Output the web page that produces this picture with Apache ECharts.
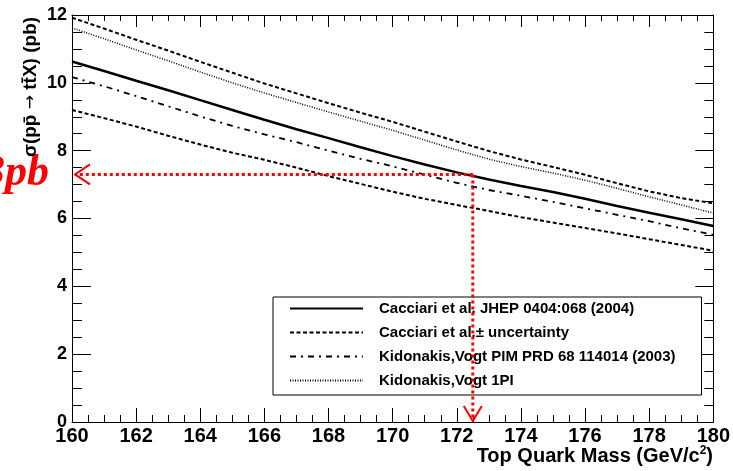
<!DOCTYPE html>
<html>
<head>
<meta charset="utf-8">
<script src="https://cdn.jsdelivr.net/npm/echarts@6/dist/echarts.min.js"></script>
<style>
  html, body { margin: 0; padding: 0; background: #fff; }
  #chart { width: 733px; height: 471px; }
</style>
</head>
<body>
<div id="chart"></div>
<script>
// Top quark mass grid (GeV/c^2)
const topMass = [160, 161, 162, 163, 164, 165, 166, 167, 168, 169, 170,
                 171, 172, 173, 174, 175, 176, 177, 178, 179, 180];

// Cross sections sigma(p pbar -> t tbar X) in pb
const cacciariCentral = [10.63, 10.35, 10.06, 9.78, 9.49, 9.20, 8.91, 8.63, 8.37, 8.10, 7.84,
                         7.59, 7.36, 7.15, 6.96, 6.78, 6.58, 6.37, 6.17, 5.98, 5.78];
const cacciariUpper   = [11.92, 11.60, 11.27, 10.95, 10.62, 10.30, 9.98, 9.69, 9.40, 9.12, 8.85,
                         8.56, 8.27, 7.99, 7.74, 7.52, 7.29, 7.04, 6.80, 6.60, 6.45];
const cacciariLower   = [9.20, 8.96, 8.71, 8.44, 8.18, 7.94, 7.73, 7.50, 7.25, 7.02, 6.79,
                         6.58, 6.40, 6.22, 6.04, 5.88, 5.72, 5.56, 5.39, 5.22, 5.05];
const kidonakisPIM    = [10.17, 9.90, 9.61, 9.31, 9.01, 8.73, 8.48, 8.25, 8.00, 7.76, 7.54,
                         7.29, 7.05, 6.84, 6.67, 6.49, 6.30, 6.11, 5.92, 5.71, 5.52];
const kidonakis1PI    = [11.62, 11.30, 10.97, 10.65, 10.32, 10.00, 9.70, 9.42, 9.14, 8.87, 8.60,
                         8.31, 8.02, 7.75, 7.53, 7.34, 7.13, 6.89, 6.64, 6.40, 6.16];

// Legend names
const seriesNames = [
  'Cacciari et al. JHEP 0404:068 (2004)',
  'Cacciari et al.\u00b1 uncertainty',
  'Kidonakis,Vogt PIM PRD 68 114014 (2003)',
  'Kidonakis,Vogt 1PI'
];

// Highlighted working point
const markMass = 172.5;
const markXsec = 7.3;
const markLabel = '7.3pb';

// Axis ranges
const xMin = 160, xMax = 180, xStep = 2;
const yMin = 0, yMax = 12, yStep = 2;

const pairs = vals => topMass.map((m, i) => [m, vals[i]]);
const FONT = '"Liberation Sans", Arial, sans-serif';

const chart = echarts.init(document.getElementById('chart'), null, { renderer: 'canvas' });

const axisCommon = {
  type: 'value',
  axisLine: { show: true, onZero: false, lineStyle: { color: '#000', width: 1 } },
  splitLine: { show: false },
  minorSplitLine: { show: false }
};

function lineSeries(name, vals, width, dash, z) {
  return {
    name: name,
    type: 'line',
    data: pairs(vals),
    showSymbol: false,
    symbol: 'none',
    smooth: false,
    animation: false,
    z: z,
    itemStyle: { color: '#000' },
    lineStyle: { color: '#000', width: width, type: dash, cap: 'butt' }
  };
}

const option = {
  backgroundColor: '#fff',
  animation: false,
  grid: { left: 72, right: 19, top: 15, bottom: 49, containLabel: false },
  xAxis: [
    Object.assign({}, axisCommon, {
      position: 'bottom', min: xMin, max: xMax, interval: xStep,
      axisTick: { show: true, inside: true, length: 14, lineStyle: { color: '#000', width: 1 } },
      minorTick: { show: true, splitNumber: 4, length: 7, lineStyle: { color: '#000', width: 1 } },
      axisLabel: { show: true, color: '#000', fontFamily: FONT, fontWeight: 'bold', fontSize: 20, margin: 4 }
    }),
    Object.assign({}, axisCommon, {
      position: 'top', min: xMin, max: xMax, interval: xStep,
      axisTick: { show: true, inside: true, length: 12, lineStyle: { color: '#000', width: 1 } },
      minorTick: { show: true, splitNumber: 4, length: 6, lineStyle: { color: '#000', width: 1 } },
      axisLabel: { show: false }
    })
  ],
  yAxis: [
    Object.assign({}, axisCommon, {
      position: 'left', min: yMin, max: yMax, interval: yStep,
      axisTick: { show: true, inside: true, length: 19, lineStyle: { color: '#000', width: 1 } },
      minorTick: { show: true, splitNumber: 4, length: 10, lineStyle: { color: '#000', width: 1 } },
      axisLabel: { show: true, color: '#000', fontFamily: FONT, fontWeight: 'bold', fontSize: 18, margin: 5 }
    }),
    Object.assign({}, axisCommon, {
      position: 'right', min: yMin, max: yMax, interval: yStep,
      axisTick: { show: true, inside: true, length: 18, lineStyle: { color: '#000', width: 1 } },
      minorTick: { show: true, splitNumber: 4, length: 9, lineStyle: { color: '#000', width: 1 } },
      axisLabel: { show: false }
    })
  ],
  legend: {
    show: true,
    orient: 'vertical',
    left: 273,
    top: 297,
    padding: [4, 26, 7, 16],
    itemGap: 9,
    itemWidth: 73,
    itemHeight: 15,
    backgroundColor: '#fff',
    borderColor: '#000',
    borderWidth: 1,
    borderRadius: 0,
    selectedMode: false,
    data: seriesNames,
    itemStyle: { opacity: 0 },
    textStyle: { color: '#000', fontFamily: FONT, fontWeight: 'bold', fontSize: 15, lineHeight: 15, padding: [0, 0, 0, 11] }
  },
  series: [
    lineSeries(seriesNames[0], cacciariCentral, 2.5, 'solid', 5),
    lineSeries(seriesNames[1], cacciariUpper, 2, [4, 2.5], 4),
    lineSeries(seriesNames[1], cacciariLower, 2, [4, 2.5], 4),
    lineSeries(seriesNames[2], kidonakisPIM, 1.8, [6, 5, 2, 5], 4),
    lineSeries(seriesNames[3], kidonakis1PI, 1.5, [1, 1.5], 4),
    {
      name: 'working point',
      type: 'custom',
      z: 20,
      silent: true,
      clip: false,
      data: [[markMass, markXsec]],
      renderItem: function (params, api) {
        const p = api.coord([api.value(0), api.value(1)]);
        const left = api.coord([xMin, api.value(1)]);
        const bottom = api.coord([api.value(0), yMin]);
        const dotted = { stroke: '#ff0000', lineWidth: 3, lineDash: [3, 3], fill: null };
        const head = { stroke: '#ff0000', lineWidth: 2, fill: null };
        return {
          type: 'group',
          children: [
            { type: 'line', shape: { x1: p[0], y1: p[1], x2: left[0] + 3, y2: p[1] }, style: dotted },
            { type: 'line', shape: { x1: p[0], y1: p[1], x2: p[0], y2: bottom[1] - 2 }, style: dotted },
            { type: 'polyline', shape: { points: [[left[0] + 18, p[1] - 10], [left[0] + 3, p[1]], [left[0] + 18, p[1] + 10]] }, style: head },
            { type: 'polyline', shape: { points: [[p[0] - 9, bottom[1] - 16], [p[0], bottom[1] - 1], [p[0] + 9, bottom[1] - 16]] }, style: head }
          ]
        };
      }
    }
  ],
  graphic: [
    {
      type: 'text',
      x: 31, y: 87,
      z: 10,
      rotation: Math.PI / 2,
      style: {
        text: '{a|\u03c3(pp\u0304 }{r|\u2192}{a| tt\u0304X) (pb)}',
        align: 'center',
        verticalAlign: 'middle',
        rich: {
          a: { font: 'bold 19px ' + FONT, fill: '#000' },
          r: { font: '17px "DejaVu Sans", sans-serif', fill: '#000' }
        }
      }
    },
    {
      type: 'text',
      x: 713, y: 456,
      style: {
        text: '{a|Top Quark Mass (GeV/c}{s|2}{a|)}',
        align: 'right',
        verticalAlign: 'middle',
        rich: {
          a: { font: 'bold 20px ' + FONT, fill: '#000' },
          s: { font: 'bold 12px ' + FONT, fill: '#000', padding: [0, 0, 11, 0] }
        }
      }
    },
    {
      type: 'text',
      x: 49, y: 196,
      z: 5,
      style: {
        text: markLabel,
        font: 'italic bold 44px "Liberation Serif", "Times New Roman", serif',
        fill: '#ff0000',
        align: 'right',
        verticalAlign: 'bottom'
      }
    }
  ]
};

chart.setOption(option);
</script>
</body>
</html>
